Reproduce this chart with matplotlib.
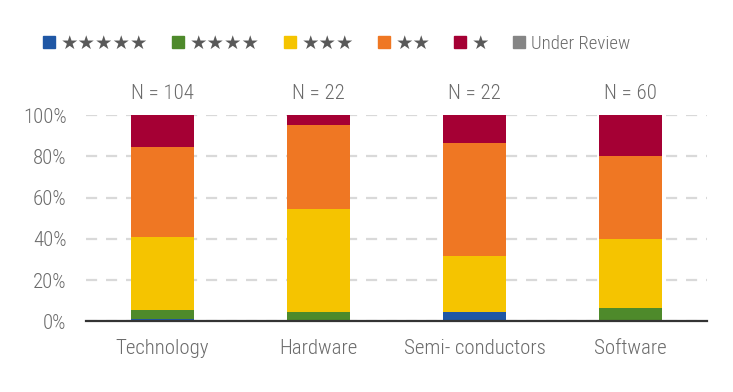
import matplotlib
matplotlib.use("Agg")
import matplotlib.pyplot as plt
from matplotlib import font_manager as fm
from matplotlib.lines import Line2D
import numpy as np

available = set(f.name for f in fm.fontManager.ttflist)
narrow_font = next((f for f in ['Roboto Condensed', 'Archivo Narrow', 'Barlow Semi Condensed']
                    if f in available), 'DejaVu Sans')
plt.rcParams['font.family'] = [narrow_font, 'DejaVu Sans']
plt.rcParams['font.weight'] = 'light'

categories = ['Technology', 'Hardware', 'Semi- conductors', 'Software']
counts = [104, 22, 22, 60]

# share of each rating bucket (%)
five_star = [1.0, 0.0, 4.5, 0.0]
four_star = [4.3, 4.5, 0.0, 6.7]
three_star = [35.6, 50.0, 27.3, 33.3]
two_star = [43.7, 40.9, 54.5, 40.0]
one_star = [15.4, 4.6, 13.7, 20.0]
under_review = [0.0, 0.0, 0.0, 0.0]

series = [five_star, four_star, three_star, two_star, one_star, under_review]
labels = ['★★★★★', '★★★★', '★★★', '★★', '★', 'Under Review']
colors = ['#1f57a5', '#4e8a2b', '#f5c400', '#ef7723', '#a50034', '#858585']

text_grey = '#6b6b6b'

fig = plt.figure(figsize=(7.33, 3.92), dpi=100)
ax = fig.add_axes([0.1173, 0.180, 0.8472, 0.5266])

x = np.arange(len(categories))
bottom = np.zeros(len(categories))
for vals, col in zip(series, colors):
    ax.bar(x, vals, width=0.40, bottom=bottom, color=col, zorder=3)
    bottom += np.array(vals)

for xi, n in zip(x, counts):
    ax.annotate(f'N = {n}', (xi, 100), xytext=(0, 9), textcoords='offset points',
                ha='center', va='bottom', fontsize=15, color=text_grey,
                annotation_clip=False)

ax.set_xlim(-0.49, 3.49)
ax.set_ylim(0, 100)
ax.set_yticks([0, 20, 40, 60, 80, 100])
ax.set_yticklabels([f'{v}%' for v in [0, 20, 40, 60, 80, 100]])
ax.set_xticks(x)
ax.set_xticklabels(categories)
ax.tick_params(axis='y', length=0, pad=14, labelsize=15, labelcolor=text_grey)
ax.tick_params(axis='x', length=0, pad=13, labelsize=15, labelcolor=text_grey)

ax.grid(axis='y', color='#d9d9d9', linestyle=(0, (5, 4)), linewidth=1.6, zorder=0)
for s in ['top', 'right', 'left']:
    ax.spines[s].set_visible(False)
ax.spines['bottom'].set_color('#333333')
ax.spines['bottom'].set_linewidth(1.6)
ax.spines['bottom'].set_zorder(4)

handles = [Line2D([], [], marker='s', linestyle='none', markersize=8,
                  markerfacecolor=c, markeredgecolor=c) for c in colors]
leg = fig.legend(handles, labels, ncol=6, loc='center left',
                 bbox_to_anchor=(0.035, 0.89), frameon=False,
                 handlelength=0.8, handletextpad=0.25, columnspacing=1.25,
                 fontsize=13)
for t in leg.get_texts():
    t.set_color('#595959')
    t.set_family(['DejaVu Sans'])
    t.set_fontweight('normal')
    t.set_fontsize(14)
last = leg.get_texts()[-1]
last.set_color(text_grey)
last.set_family([narrow_font, 'DejaVu Sans'])
last.set_fontweight('light')
last.set_fontsize(13.5)

fig.savefig('out.png', dpi=100, facecolor='white')
